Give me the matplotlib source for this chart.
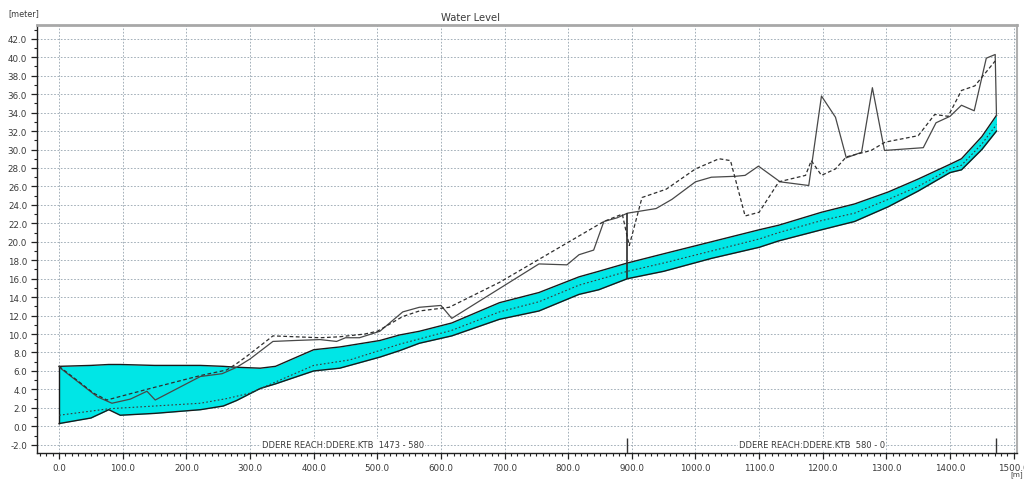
import matplotlib
matplotlib.use("Agg")
import matplotlib.pyplot as plt
from matplotlib.ticker import MultipleLocator, FuncFormatter

# Longitudinal profile stations [m] shared by water level and bed level
stations = [0, 50, 78, 96, 150, 222, 258, 279, 316, 340, 400, 441, 504, 535,
            566, 617, 692, 754, 817, 848, 893, 950, 1025, 1100, 1131, 1198,
            1250, 1303, 1350, 1400, 1418, 1450, 1473]
water_level = [6.5, 6.6, 6.7, 6.7, 6.6, 6.6, 6.5, 6.4, 6.3, 6.5, 8.3, 8.6,
               9.3, 9.9, 10.3, 11.2, 13.4, 14.5, 16.2, 16.8, 17.7, 18.7, 20.0,
               21.3, 21.8, 23.2, 24.1, 25.4, 26.8, 28.4, 29.0, 31.4, 33.7]
bed_level = [0.3, 0.9, 1.8, 1.2, 1.4, 1.8, 2.2, 2.8, 4.1, 4.6, 6.0, 6.3, 7.5,
             8.2, 9.0, 9.8, 11.6, 12.5, 14.3, 14.8, 16.0, 16.8, 18.2, 19.4,
             20.1, 21.3, 22.2, 23.8, 25.5, 27.5, 27.8, 30.0, 32.0]

# Mid-channel reference line
mid_x = [0, 78, 150, 222, 263, 300, 340, 400, 457, 535, 617, 692, 754, 817,
         893, 950, 1025, 1100, 1131, 1198, 1250, 1303, 1350, 1400, 1418, 1450,
         1473]
mid_level = [1.2, 1.9, 2.2, 2.5, 3.0, 3.6, 4.8, 6.6, 7.2, 8.9, 10.4, 12.4,
             13.5, 15.3, 16.8, 17.7, 19.0, 20.3, 21.0, 22.3, 23.1, 24.6, 26.0,
             27.9, 28.3, 30.6, 32.7]

# Left bank
left_x = [0, 2, 60, 83, 112, 138, 151, 222, 256, 279, 300, 336, 370, 410,
          436, 450, 472, 504, 540, 566, 600, 617, 754, 798, 817, 840, 856, 877,
          893, 938, 963, 1000, 1025, 1063, 1078, 1099, 1133, 1178, 1198, 1220,
          1237, 1261, 1278, 1297, 1358, 1378, 1400, 1418, 1438, 1457, 1471,
          1473]
left_bank = [6.5, 6.3, 3.2, 2.5, 2.95, 3.8, 2.85, 5.4, 5.7, 6.4, 7.3, 9.2,
             9.3, 9.4, 9.2, 9.6, 9.6, 10.3, 12.4, 12.9, 13.1, 11.7, 17.6, 17.5,
             18.6, 19.1, 22.2, 22.6, 23.1, 23.6, 24.6, 26.5, 27.0, 27.1, 27.2,
             28.2, 26.5, 26.1, 35.8, 33.5, 29.1, 29.7, 36.7, 29.9, 30.2, 32.9,
             33.6, 34.8, 34.2, 39.9, 40.3, 33.7]

# Right bank
right_x = [0, 54, 75, 143, 222, 263, 279, 295, 336, 410, 440, 480, 500, 540,
           566, 613, 692, 856, 885, 891, 896, 916, 954, 1000, 1037, 1055, 1078,
           1100, 1131, 1173, 1182, 1198, 1220, 1237, 1276, 1298, 1350, 1376,
           1397, 1418, 1439, 1471]
right_bank = [6.5, 3.6, 2.85, 4.1, 5.5, 6.1, 6.8, 7.6, 9.8, 9.6, 9.7, 10.0,
              10.3, 11.9, 12.5, 12.9, 15.6, 22.2, 23.0, 21.1, 19.6, 24.8, 25.7,
              27.9, 29.0, 28.8, 22.8, 23.2, 26.5, 27.2, 28.8, 27.2, 27.9, 29.2,
              29.9, 30.8, 31.5, 33.8, 33.6, 36.4, 36.9, 39.6]

# Reaches along the profile
reach_names = ["DDERE REACH:DDERE.KTB  1473 - 580", "DDERE REACH:DDERE.KTB  580 - 0"]
reach_start = [0, 893]
reach_end = [893, 1473]
junction_bank = 23.1

x_ticks = [0, 100, 200, 300, 400, 500, 600, 700, 800, 900, 1000, 1100, 1200,
           1300, 1400, 1500]
y_ticks = [-2, 0, 2, 4, 6, 8, 10, 12, 14, 16, 18, 20, 22, 24, 26, 28, 30, 32,
           34, 36, 38, 40, 42]

fig = plt.figure(figsize=(10.24, 4.81), dpi=100)
ax = fig.add_axes([0.036, 0.056, 0.957, 0.890])

txt = "#3a3a3a"
ax.fill_between(stations, bed_level, water_level, color="#00E6E6", lw=0, zorder=2)
ax.plot(stations, water_level, color="#1a1a1a", lw=1.0, zorder=3)
ax.plot(stations, bed_level, color="#1a1a1a", lw=1.0, zorder=3)
ax.vlines(stations[0], bed_level[0], water_level[0], color="#1a1a1a", lw=1.0, zorder=3)
ax.plot(mid_x, mid_level, color="#3a3a3a", lw=0.8, ls=(0, (1.5, 2)), zorder=3)
ax.plot(left_x, left_bank, color="#484848", lw=0.9, zorder=4)
ax.plot(right_x, right_bank, color="#2e2e2e", lw=0.9, ls=(0, (3, 2)), zorder=4)

# Reach junction
jx = reach_end[0]
j_bed = bed_level[stations.index(jx)]
ax.vlines(jx, j_bed, junction_bank, color="#2a2a2a", lw=1.2, zorder=4)

ax.set_xlim(-35, 1505)
ax.set_ylim(-2.9, 43.5)

# Reach labels and end markers
for name, s, e in zip(reach_names, reach_start, reach_end):
    ax.text((s + e) / 2, -2.0, name, fontsize=6.0, color=txt, ha="center",
            va="center", zorder=5,
            bbox=dict(facecolor="white", edgecolor="none", pad=0.6))
    ax.vlines(e, -2.9, -1.3, color="#333333", lw=1.0, zorder=5)

ax.set_xticks(x_ticks)
ax.set_yticks(y_ticks)
ax.xaxis.set_minor_locator(MultipleLocator(10))
ax.yaxis.set_minor_locator(MultipleLocator(1))
fmt = FuncFormatter(lambda v, p: f"{v:.1f}")
ax.xaxis.set_major_formatter(fmt)
ax.yaxis.set_major_formatter(fmt)
ax.tick_params(axis="both", which="major", labelsize=6.3, labelcolor=txt,
               length=4, width=0.9, color="#222222", direction="out", pad=3)
ax.tick_params(axis="both", which="minor", length=2.5, width=0.8,
               color="#222222", direction="out")

ax.grid(True, which="major", color="#95a3ae", lw=0.6, ls=(0, (2, 2)), zorder=1)
ax.set_axisbelow(True)

for side in ("left", "bottom"):
    ax.spines[side].set_color("#222222")
    ax.spines[side].set_linewidth(1.0)
ax.spines["top"].set_color("#a8a8a8")
ax.spines["top"].set_linewidth(2.0)
ax.spines["right"].set_color("#b0b0b0")
ax.spines["right"].set_linewidth(1.5)

fig.text(0.459, 0.962, "Water Level", fontsize=7.2, color=txt, ha="center", va="center")
fig.text(0.008, 0.972, "[meter]", fontsize=5.8, color=txt, ha="left", va="center")
fig.text(0.993, 0.006, "[m]", fontsize=5.2, color=txt, ha="center", va="bottom")

fig.savefig("out.png", dpi=100, facecolor="white")
